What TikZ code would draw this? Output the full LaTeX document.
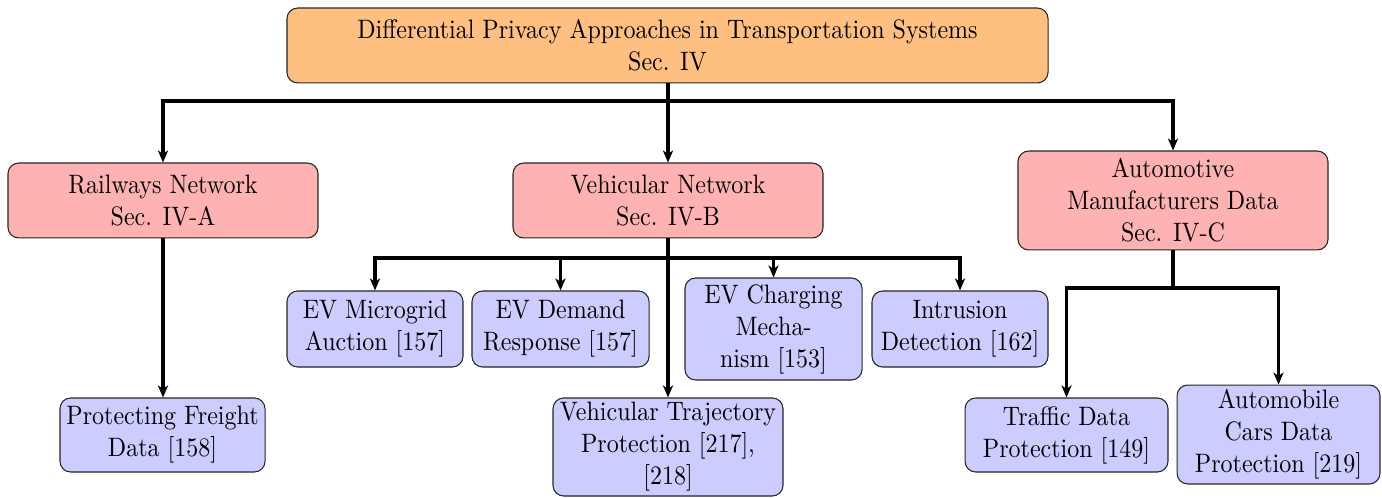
\documentclass[tikz,border=0pt]{standalone}
\usepackage{fontspec}
\setmainfont{Latin Modern Roman}[FakeStretch=0.9]
\usetikzlibrary{arrows.meta}
\begin{document}
\begin{tikzpicture}[x=0.375pt,y=-0.375pt,
  box/.style={draw=black!85,rounded corners=4pt,align=center,inner sep=0pt,
    font=\rmfamily\fontsize{10}{12}\selectfont},
  rootbox/.style={box,fill=orange!50,minimum width=285.4pt,minimum height=28.1pt},
  secbox/.style={box,fill=red!30,minimum width=116.25pt},
  leafbox/.style={box,fill=blue!20},
  arr/.style={line width=1.2pt,-{Stealth[length=4.5pt,width=3.8pt,inset=1.3pt]}},
  ln/.style={line width=1.2pt}]
\useasboundingbox (0,0) rectangle (1382,498);
\node[rootbox] (root) at (667.5,45.5) {Differential Privacy Approaches in Transportation Systems\\Sec. IV};
\node[secbox,minimum height=28.1pt] (rail) at (163,200.5) {Railways Network\\Sec. IV-A};
\node[secbox,minimum height=28.1pt] (veh) at (668,200.5) {Vehicular Network\\Sec. IV-B};
\node[secbox,minimum height=37.1pt] (auto) at (1173,200.5) {Automotive\\Manufacturers Data\\Sec. IV-C};
\node[leafbox,minimum width=76.9pt,minimum height=27.75pt] (freight) at (162.5,435) {Protecting Freight\\Data [158]};
\node[leafbox,minimum width=66pt,minimum height=28.5pt] (micro) at (375,329) {EV Microgrid\\Auction [157]};
\node[leafbox,minimum width=66.4pt,minimum height=28.5pt] (demand) at (560.5,329) {EV Demand\\Response [157]};
\node[leafbox,minimum width=66.4pt,minimum height=38.25pt] (charg) at (773.5,329) {EV Charging\\Mecha-\\nism [153]};
\node[leafbox,minimum width=66pt,minimum height=28.5pt] (intr) at (960,329) {Intrusion\\Detection [162]};
\node[leafbox,minimum width=86.25pt,minimum height=36.75pt] (traj) at (668,447) {Vehicular Trajectory\\Protection [217],\\{}[218]};
\node[leafbox,minimum width=76.1pt,minimum height=27.75pt] (traffic) at (1066.5,435) {Traffic Data\\Protection [149]};
\node[leafbox,minimum width=76.1pt,minimum height=37.1pt] (car) at (1278.5,434.5) {Automobile\\Cars Data\\Protection [219]};
\coordinate (j1) at (668,101);
\coordinate (j2) at (668,258);
\coordinate (j3) at (1173,288);
% root to sections
\draw[ln] (root.south -| j1) -- (j1);
\draw[arr] (j1) -| (rail.north);
\draw[arr] (j1) -- (veh.north);
\draw[arr] (j1) -| (auto.north);
% railways
\draw[arr] (rail.south) -- (freight.north -| rail.south);
% vehicular
\draw[arr] (veh.south) -- (traj.north);
\draw[arr] (j2) -| (micro.north);
\draw[arr] (j2) -| (demand.north);
\draw[arr] (j2) -| (charg.north);
\draw[arr] (j2) -| (intr.north);
% automotive
\draw[ln] (auto.south) -- (j3);
\draw[arr] (j3) -| (traffic.north);
\draw[arr] (j3) -| (car.north);
\end{tikzpicture}
\end{document}
